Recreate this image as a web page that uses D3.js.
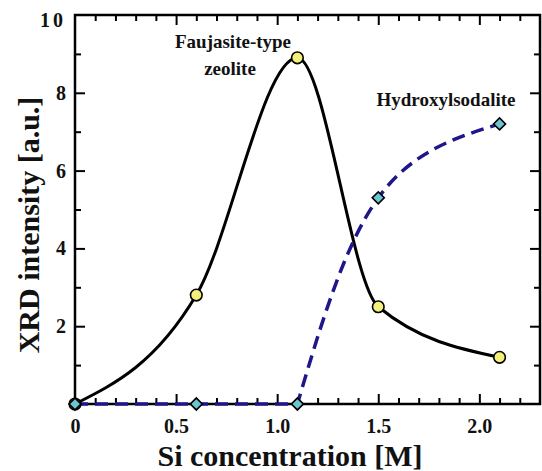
<!DOCTYPE html>
<html>
<head>
<meta charset="utf-8">
<script src="https://cdn.jsdelivr.net/npm/d3@7"></script>
<style>
  body { margin: 0; background: #fff; }
</style>
</head>
<body>
<svg id="chart" width="542" height="471"></svg>
<script>
// data
const siConc = [0, 0.6, 1.1, 1.5, 2.1];
const faujasite = [0, 2.8, 8.9, 2.5, 1.2];
const sodalite = [0, 0, 0, 5.3, 7.2];

const xMajor = [0, 0.5, 1.0, 1.5, 2.0];
const xTickLabels = ["0", "0.5", "1.0", "1.5", "2.0"];
const yMajor = [2, 4, 6, 8, 10];
const yTickLabels = ["2", "4", "6", "8", "10"];
const yMinor = [1, 3, 5, 7, 9];

const FONT = "'Liberation Serif', 'DejaVu Serif', serif";

const svg = d3.select("#chart")
  .attr("font-family", FONT)
  .attr("font-weight", "bold");
const box = { left: 75, right: 540, top: 15, bottom: 404 };

const x = d3.scaleLinear().domain([0, 2.3]).range([box.left, box.right]);
const y = d3.scaleLinear().domain([0, 10]).range([box.bottom, box.top]);

const xMinor = d3.range(1, 23).map(i => i / 10).filter(v => !xMajor.some(m => Math.abs(m - v) < 1e-9));

// ticks on all four sides, pointing inward
function tickAxis(axisFn, scale, values, size, pos) {
  const g = svg.append("g").attr("transform", pos)
    .call(axisFn(scale).tickValues(values).tickSize(size).tickFormat(""));
  g.select(".domain").remove();
  g.selectAll("line").attr("stroke", "#000").attr("stroke-width", 2);
  return g;
}
tickAxis(d3.axisBottom, x, xMajor.slice(1), -10, `translate(0,${box.bottom})`);
tickAxis(d3.axisBottom, x, xMinor, -6, `translate(0,${box.bottom})`);
tickAxis(d3.axisTop, x, xMajor.slice(1), -10, `translate(0,${box.top})`);
tickAxis(d3.axisTop, x, xMinor, -6, `translate(0,${box.top})`);
tickAxis(d3.axisLeft, y, yMajor.slice(0, -1), -10, `translate(${box.left},0)`);
tickAxis(d3.axisLeft, y, yMinor, -6, `translate(${box.left},0)`);
tickAxis(d3.axisRight, y, yMajor.slice(0, -1), -10, `translate(${box.right},0)`);
tickAxis(d3.axisRight, y, yMinor, -6, `translate(${box.right},0)`);

svg.append("rect")
  .attr("x", box.left).attr("y", box.top)
  .attr("width", box.right - box.left).attr("height", box.bottom - box.top)
  .attr("fill", "none").attr("stroke", "#000").attr("stroke-width", 2.5);

// tick labels
function styleText(sel, size) {
  sel.attr("font-family", FONT).attr("font-weight", "bold")
    .attr("font-size", size).attr("fill", "#111");
}
const xl = svg.append("g").attr("transform", `translate(0,${box.bottom})`)
  .call(d3.axisBottom(x).tickValues(xMajor).tickSize(0).tickPadding(15)
    .tickFormat((d, i) => xTickLabels[i]));
xl.select(".domain").remove();
xl.selectAll("text").call(styleText, 20);

const yl = svg.append("g").attr("transform", `translate(${box.left},0)`)
  .call(d3.axisLeft(y).tickValues(yMajor).tickSize(0).tickPadding(9)
    .tickFormat((d, i) => yTickLabels[i]));
yl.select(".domain").remove();
yl.selectAll("text").call(styleText, 20)
  .attr("letter-spacing", d => d === 10 ? 3 : 0)
  .attr("dy", d => d === 10 ? "0.55em" : "0.32em");

// axis titles
svg.append("text")
  .attr("x", 290).attr("y", 466)
  .attr("text-anchor", "middle")
  .call(styleText, 30)
  .text("Si concentration [M]");
svg.append("text")
  .attr("transform", "translate(39,225) rotate(-90)")
  .attr("text-anchor", "middle")
  .call(styleText, 30)
  .text("XRD intensity [a.u.]");

// curves
const rowsF = siConc.map((c, i) => [c, faujasite[i]]);
const rowsS = siConc.map((c, i) => [c, sodalite[i]]);
const line = d3.line().x(d => x(d[0])).y(d => y(d[1])).curve(d3.curveMonotoneX);
const lineNat = d3.line().x(d => x(d[0])).y(d => y(d[1])).curve(d3.curveNatural);

svg.append("path").datum(rowsF).attr("d", line)
  .attr("fill", "none").attr("stroke", "#000").attr("stroke-width", 3);

// sodalite: flat until the onset, then a smooth rise
const onset = rowsS.findIndex(d => d[1] > 0) - 1;
const flatPart = d3.line().x(d => x(d[0])).y(d => y(d[1]))(rowsS.slice(0, onset + 1));
const risePart = lineNat(rowsS.slice(onset));
svg.append("path").attr("d", flatPart + risePart.replace(/^M[^A-Za-z]*/, ""))
  .attr("fill", "none").attr("stroke", "#1f1689").attr("stroke-width", 3.5)
  .attr("stroke-dasharray", "13,7");

svg.selectAll("circle.fau").data(rowsF).join("circle")
  .attr("class", "fau")
  .attr("cx", d => x(d[0])).attr("cy", d => y(d[1])).attr("r", 5.8)
  .attr("fill", "#f4f07a").attr("stroke", "#000").attr("stroke-width", 1.6);

const diamond = d3.symbol(d3.symbolSquare, 72);
svg.selectAll("path.sod").data(rowsS).join("path")
  .attr("class", "sod")
  .attr("d", diamond)
  .attr("transform", d => `translate(${x(d[0])},${y(d[1])}) rotate(45)`)
  .attr("fill", "#6cc6d2").attr("stroke", "#000").attr("stroke-width", 1.6);

// annotations
const ann = svg.append("g").attr("text-anchor", "middle");
ann.append("text").attr("x", 233).attr("y", 48).call(styleText, 19).text("Faujasite-type");
ann.append("text").attr("x", 230).attr("y", 75).call(styleText, 19).text("zeolite");
ann.append("text").attr("x", 446).attr("y", 106).call(styleText, 19).text("Hydroxylsodalite");
</script>
</body>
</html>
